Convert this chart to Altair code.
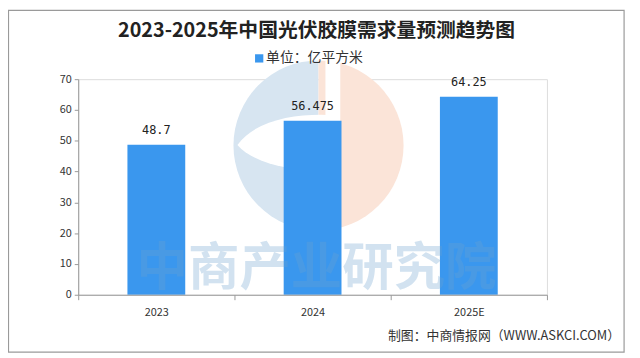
import math
import altair as alt
import pandas as pd

years = ["2023", "2024", "2025E"]
values = [48.7, 56.475, 64.25]
y_ticks = [0, 10, 20, 30, 40, 50, 60, 70]

title_text = "2023-2025年中国光伏胶膜需求量预测趋势图"
legend_text = "单位：亿平方米"
source_text = "制图：中商情报网（WWW.ASKCI.COM）"
watermark_text = "中商产业研究院"

FONT = "Noto Sans CJK SC"
df = pd.DataFrame({"year": years, "value": values})
one = pd.DataFrame({"a": [0]})

border = alt.Chart(one).mark_rect(filled=False, stroke="#9a9a9a", strokeWidth=1.2).encode(
    x=alt.value(-70.5), x2=alt.value(552), y=alt.value(-69.5), y2=alt.value(276))

blue_arc = alt.Chart(one).mark_arc(theta=math.pi, theta2=2 * math.pi, radius=86, color="#d7e5f1").encode(
    x=alt.value(243), y=alt.value(67))
peach_arc = alt.Chart(one).mark_arc(theta=0.0, theta2=math.pi, radius=86, color="#fbe4d8").encode(
    x=alt.value(243), y=alt.value(67))
gap = alt.Chart(one).mark_rect(fill="white").encode(
    x=alt.value(250), x2=alt.value(265), y=alt.value(-25), y2=alt.value(160))
hole_path = "M -1 0.05 C -0.6 -0.5 0.3 -0.6 1 -0.55 L 1 0.55 C 0.3 0.6 -0.6 0.5 -1 0.05 Z"
hole = alt.Chart(one).mark_point(shape=hole_path, filled=True, fill="white", opacity=1, size=10000, strokeWidth=0).encode(
    x=alt.value(211), y=alt.value(64))
wm = alt.Chart(one).mark_text(text=watermark_text, font=FONT, fontSize=52, fontWeight="bold",
                              color="#6ca2d0", opacity=0.3, align="center", baseline="middle").encode(
    x=alt.value(241), y=alt.value(192))

axis_common = dict(labelFontSize=11, labelColor="#333333", domainColor="#999999",
                   tickColor="#999999", labelFont=FONT, zindex=1, labelOverlap=False)

bars = alt.Chart(df).mark_bar(color="#3a97ee", width={"band": 0.37}).encode(
    x=alt.X("year:N", sort=years, title=None,
            scale=alt.Scale(paddingInner=0, paddingOuter=0),
            axis=alt.Axis(labelAngle=0, tickBand="extent", tickSize=5, labelPadding=7, **axis_common)),
    y=alt.Y("value:Q", title=None,
            scale=alt.Scale(domain=[0, 70], nice=False),
            axis=alt.Axis(values=y_ticks, tickCount=8, grid=False, tickSize=4,
                          labelPadding=3, **axis_common)),
)
labels = alt.Chart(df).mark_text(font="DejaVu Sans Mono", fontSize=12, color="#222222",
                                 baseline="bottom", dy=-8).encode(
    x=alt.X("year:N", sort=years), y="value:Q", text="value:Q")

title = alt.Chart(one).mark_text(text=title_text, font=FONT, fontSize=20, fontWeight="bold",
                                 color="#222222", align="center", baseline="middle").encode(
    x=alt.value(241), y=alt.value(-49))
leg_sq = alt.Chart(one).mark_point(shape="square", filled=True, color="#3a97ee", size=70, opacity=1).encode(
    x=alt.value(183), y=alt.value(-21))
leg_tx = alt.Chart(one).mark_text(text=legend_text, font=FONT, fontSize=14, color="#333333",
                                  align="left", baseline="middle").encode(
    x=alt.value(190), y=alt.value(-21))
src = alt.Chart(one).mark_text(text=source_text, font=FONT, fontSize=13, color="#333333",
                               align="right", baseline="middle").encode(
    x=alt.value(548), y=alt.value(260))

chart = alt.layer(border, blue_arc, peach_arc, gap, hole, bars, labels, wm,
                  title, leg_sq, leg_tx, src).properties(
    width=474, height=218,
    autosize=alt.AutoSizeParams(type="none"),
    padding={"left": 71, "top": 70, "right": 86, "bottom": 62},
).configure_view(stroke=None).configure(font=FONT)

chart.save("out.html", embed_options={"renderer": "svg", "actions": False})
